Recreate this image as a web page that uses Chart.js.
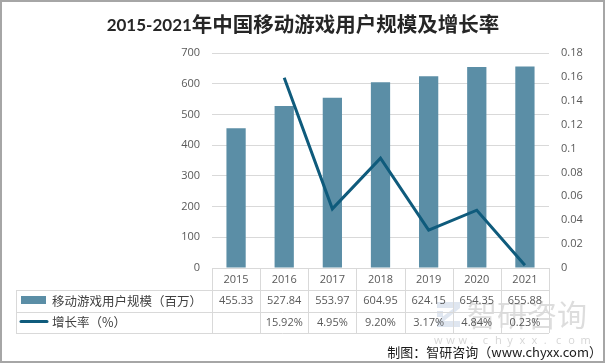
<!DOCTYPE html>
<html>
<head>
<meta charset="utf-8">
<script src="https://cdn.jsdelivr.net/npm/chart.js@4.4.1/dist/chart.umd.min.js"></script>
<style>
  html, body { margin: 0; padding: 0; background: #fff; }
  #wrap { width: 606px; height: 364px; position: relative; }
</style>
</head>
<body>
<div id="wrap"><canvas id="c" width="606" height="364"></canvas></div>
<script>
const titleNum = '2015-2021';
const titleCjk = '年中国移动游戏用户规模及增长率';
const years = ['2015', '2016', '2017', '2018', '2019', '2020', '2021'];
const users = [455.33, 527.84, 553.97, 604.95, 624.15, 654.35, 655.88];
const growth = [null, 0.1592, 0.0495, 0.0920, 0.0317, 0.0484, 0.0023];
const seriesNames = ['移动游戏用户规模（百万）', '增长率（%）'];
const footer = '制图：智研咨询（www.chyxx.com）';

const BAR = '#5b8ea6';
const LINE = '#0f5b7c';
const GRID = '#d9d9d9';
const TXT = '#595959';
const NUMFONT = '11px "Open Sans"';
const CJKFONT = '12.5px "Noto Sans CJK SC"';

const deco = {
  id: 'deco',
  beforeDraw(chart) {
    const ctx = chart.ctx;
    ctx.save();
    ctx.fillStyle = '#fff';
    ctx.fillRect(0, 0, chart.width, chart.height);
    ctx.restore();
  },
  afterDraw(chart) {
    const ctx = chart.ctx;
    const a = chart.chartArea;
    const xs = chart.scales.x;
    const n = years.length;
    const colW = (a.right - a.left) / n;
    const r0 = a.bottom, r1 = 290, r2 = 311.5, r3 = 333;
    const left = 16;
    ctx.save();

    // watermark
    ctx.fillStyle = 'rgba(140,165,200,0.28)';
    ctx.fillRect(437, 302, 23, 6);
    ctx.fillRect(437, 321, 23, 6);
    ctx.beginPath();
    ctx.moveTo(454, 308); ctx.lineTo(460, 308); ctx.lineTo(444, 321); ctx.lineTo(437, 321);
    ctx.closePath(); ctx.fill();
    ctx.fillRect(437, 311, 6, 6);
    ctx.fillStyle = 'rgba(150,150,150,0.32)';
    ctx.font = '30px "Noto Sans CJK SC"';
    ctx.textAlign = 'left';
    ctx.textBaseline = 'middle';
    ctx.fillText('智研咨询', 467, 315);
    ctx.font = '11px "Open Sans"';
    ctx.fillStyle = 'rgba(150,150,150,0.4)';
    const ww = 'www.chyxx.com';
    for (let i = 0; i < ww.length; i++) {
      ctx.fillText(ww[i], 434 + i * 12.2, 341);
    }

    // table lines
    ctx.strokeStyle = GRID;
    ctx.lineWidth = 1;
    ctx.beginPath();
    [r0, r1, r2, r3].forEach((y, i) => {
      const yy = Math.round(y) + 0.5;
      ctx.moveTo(i === 0 ? a.left : left, yy);
      ctx.lineTo(a.right, yy);
    });
    for (let i = 0; i <= n; i++) {
      const x = Math.round(a.left + i * colW) + 0.5;
      ctx.moveTo(x, r0); ctx.lineTo(x, r3);
    }
    ctx.moveTo(left + 0.5, r1); ctx.lineTo(left + 0.5, r3);
    ctx.stroke();

    // table texts
    ctx.fillStyle = TXT;
    ctx.font = NUMFONT;
    ctx.textAlign = 'center';
    ctx.textBaseline = 'middle';
    years.forEach((y, i) => {
      const cx = xs.getPixelForValue(i);
      ctx.fillText(y, cx, (r0 + r1) / 2 + 0.5);
      ctx.fillText(users[i].toFixed(2), cx, (r1 + r2) / 2 + 0.5);
      if (growth[i] != null) ctx.fillText((growth[i] * 100).toFixed(2) + '%', cx, (r2 + r3) / 2 + 0.5);
    });

    // legend keys
    ctx.fillStyle = BAR;
    ctx.fillRect(21, 296, 25, 8);
    ctx.strokeStyle = LINE;
    ctx.lineWidth = 3;
    ctx.lineCap = 'round';
    ctx.beginPath();
    ctx.moveTo(21, 321.5); ctx.lineTo(47, 321.5);
    ctx.stroke();
    ctx.fillStyle = '#404040';
    ctx.font = CJKFONT;
    ctx.textAlign = 'left';
    ctx.fillText(seriesNames[0], 52, (r1 + r2) / 2);
    ctx.fillText(seriesNames[1], 52, (r2 + r3) / 2);

    // title
    ctx.fillStyle = '#262626';
    const f1 = 'bold 17px Lato';
    const f2 = 'bold 20.5px "Noto Sans CJK SC"';
    ctx.font = f1;
    const w1 = ctx.measureText(titleNum).width;
    ctx.font = f2;
    const w2 = ctx.measureText(titleCjk).width;
    const x0 = 303 - (w1 + w2) / 2;
    ctx.textBaseline = 'alphabetic';
    ctx.font = f1;
    ctx.fillText(titleNum, x0, 31);
    ctx.font = f2;
    ctx.fillText(titleCjk, x0 + w1, 32);

    // footer
    ctx.fillStyle = '#1a1a1a';
    ctx.font = '13px "Noto Sans CJK SC"';
    ctx.textAlign = 'right';
    ctx.textBaseline = 'middle';
    ctx.fillText(footer, 602, 352);

    // frame
    ctx.strokeStyle = '#a6a6a6';
    ctx.lineWidth = 2;
    ctx.strokeRect(1, 1, 603, 361);
    ctx.restore();
  }
};

new Chart(document.getElementById('c'), {
  data: {
    labels: years,
    datasets: [
      {
        type: 'line',
        label: seriesNames[1],
        data: growth,
        yAxisID: 'y1',
        borderColor: LINE,
        backgroundColor: LINE,
        borderWidth: 3,
        pointRadius: 0,
        tension: 0,
        order: 0
      },
      {
        type: 'bar',
        label: seriesNames[0],
        data: users,
        yAxisID: 'y',
        backgroundColor: BAR,
        barPercentage: 0.8,
        categoryPercentage: 0.5,
        order: 1
      }
    ]
  },
  options: {
    responsive: false,
    animation: false,
    layout: { padding: { top: 53, bottom: 96, left: 0, right: 0 } },
    plugins: { legend: { display: false }, title: { display: false }, tooltip: { enabled: false } },
    scales: {
      x: { display: false, offset: true },
      y: {
        position: 'left',
        min: 0, max: 700,
        ticks: { stepSize: 100, padding: 12, color: TXT, font: { family: 'Open Sans', size: 11 } },
        grid: { color: GRID, drawTicks: false },
        border: { display: false },
        afterFit(s) { s.width = 212; }
      },
      y1: {
        position: 'right',
        min: 0, max: 0.18,
        ticks: {
          stepSize: 0.02, padding: 12, color: TXT, font: { family: 'Open Sans', size: 11 },
          callback: v => String(+v.toFixed(2))
        },
        grid: { display: false, drawTicks: false },
        border: { display: false },
        afterFit(s) { s.width = 57; }
      }
    }
  },
  plugins: [deco]
});
</script>
</body>
</html>
